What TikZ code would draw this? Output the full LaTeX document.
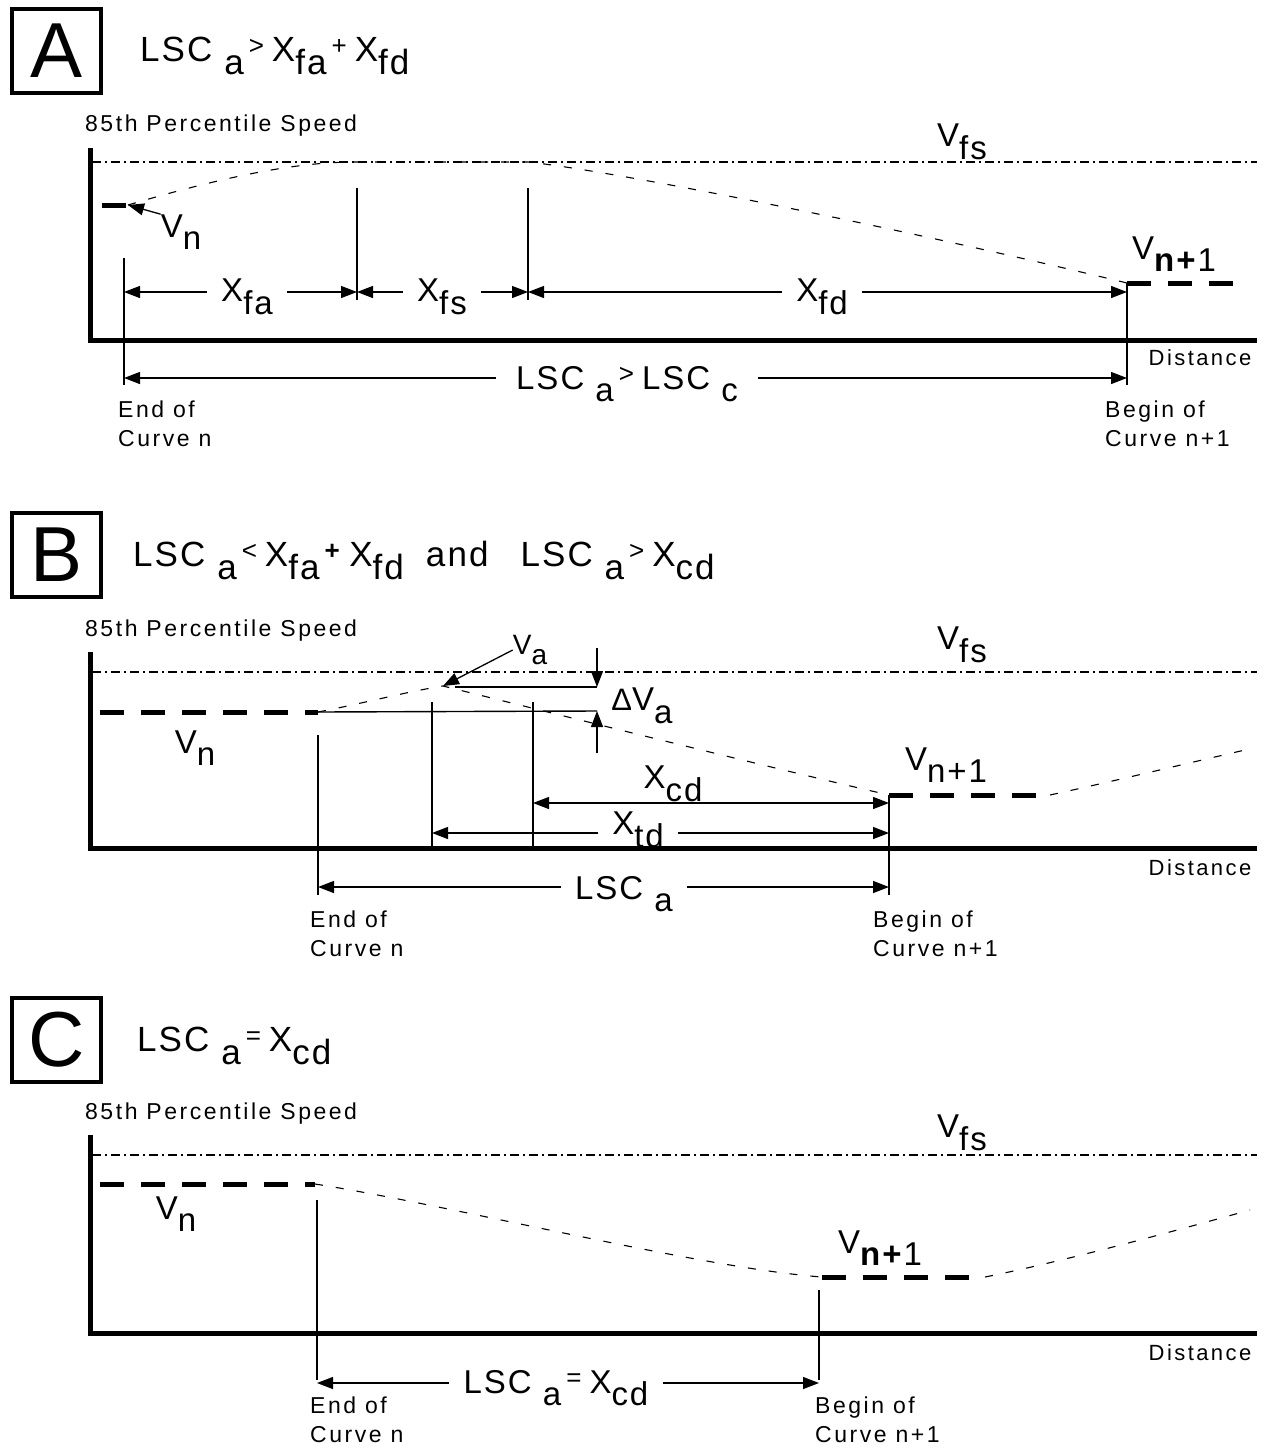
\documentclass[tikz,border=0pt]{standalone}
\usepackage{fontspec}
\setmainfont{Liberation Sans}
\newfontfamily\spacedfont[LetterSpace=11]{Liberation Sans}
\newfontfamily\titlefont[LetterSpace=6]{Liberation Sans}
\usetikzlibrary{arrows.meta,positioning}
\definecolor{ink}{HTML}{000000}
\newcommand{\subtx}[1]{\raisebox{-0.38em}{#1}}
\newcommand{\relsym}[1]{\hspace{5pt}{\fontsize{26}{26}\selectfont\raisebox{0.25em}{#1}}\hspace{8pt}}
\newcommand{\deltasym}{{\fontsize{31}{31}\selectfont\symbol{"0394}}}
\tikzset{
  arr/.style={-{Triangle[length=16pt,width=12pt]},line width=1.3pt,ink},
  darr/.style={{Triangle[length=16pt,width=12pt]}-{Triangle[length=16pt,width=12pt]},line width=1.3pt,ink},
  axisline/.style={line width=5pt,ink,line join=miter},
  guide/.style={line width=1.4pt,ink},
  fsline/.style={line width=1.2pt,ink,dash pattern=on 9pt off 4pt on 2pt off 4pt},
  level/.style={line width=5pt,ink,dash pattern=on 24pt off 17pt},
  speed/.style={line width=1.1pt,ink,dash pattern=on 8pt off 13pt},
  tag/.style={draw,line width=4pt,minimum width=89pt,minimum height=84pt,
    inner sep=0pt,font=\fontsize{78}{78}\selectfont},
  ttl/.style={anchor=base west,inner sep=0pt,font=\titlefont\fontsize{35}{35}\selectfont},
  yttl/.style={anchor=base west,inner sep=0pt,font=\spacedfont\fontsize{23}{23}\selectfont},
  lbl/.style={inner sep=0pt,font=\titlefont\fontsize{33}{33}\selectfont},
  dimlbl/.style={lbl,inner xsep=14pt},
  distlbl/.style={inner sep=0pt,font=\spacedfont\fontsize{22}{22}\selectfont},
  note/.style={anchor=north west,inner sep=0pt,align=left,
    font=\spacedfont\fontsize{23}{29}\selectfont},
}
\begin{document}
\begin{tikzpicture}[x=1pt,y=-1pt]
\useasboundingbox (0,0) rectangle (1267,1451);

% PANEL A
\node[tag] (Atag) at (56.5,51) {A};
\node[ttl] (Attl) at (140,61) {LSC \subtx{a}\relsym{>}X\subtx{fa}\relsym{+}X\subtx{fd}};
\node[yttl] (Ay) at (85,131) {85th Percentile Speed};
\draw[axisline] (90,148) -- (90,340) -- (1257,340);
\draw[fsline] (92,162) -- (1257,162);
\node[lbl] (Afs) at (962,142) {V\subtx{fs}};
\coordinate (Avn) at (128,205);
\draw[level] (102,205) -- (Avn);
\node[lbl] (Avnl) at (181,232) {V\subtx{n}};
\draw[arr] (Avnl.north west) -- (Avn);
\coordinate (Avn1) at (1127,283);
\draw[level] (Avn1) -- (1245,283);
\node[lbl] (Avn1l) at (1174,254) {V\subtx{\textbf{n+}1}};
\draw[speed] (Avn) .. controls (220,178) and (290,163) .. (350,162) -- (528,162)
  .. controls (620,172) and (900,228) .. (Avn1);
% markers
\coordinate (Ad1) at (124,292);
\coordinate (Ad2) at (357,292);
\coordinate (Ad3) at (528,292);
\coordinate (Ad4) at (1127,292);
\coordinate (Ae) at (124,378);
\coordinate (Ab) at (1127,378);
\draw[guide] (124,258) -- (124,385);
\draw[guide] (357,188) -- (357,300);
\draw[guide] (528,188) -- (528,300);
\draw[guide] (Avn1) -- (1127,385);
% dimensions
\node[dimlbl] (Axfa) at (247,297) {X\subtx{fa}};
\node[dimlbl] (Axfs) at (442,297) {X\subtx{fs}};
\node[dimlbl] (Axfd) at (822,297) {X\subtx{fd}};
\draw[arr] (Axfa.west |- Ad1) -- (Ad1);
\draw[arr] (Axfa.east |- Ad2) -- (Ad2);
\draw[arr] (Axfs.west |- Ad2) -- (Ad2);
\draw[arr] (Axfs.east |- Ad3) -- (Ad3);
\draw[arr] (Axfd.west |- Ad3) -- (Ad3);
\draw[arr] (Axfd.east |- Ad4) -- (Ad4);
\node[dimlbl,inner xsep=20pt] (Alsc) at (627,384) {LSC \subtx{a}\relsym{>}LSC \subtx{c}};
\draw[arr] (Alsc.west |- Ae) -- (Ae);
\draw[arr] (Alsc.east |- Ab) -- (Ab);
\node[distlbl] (Adist) at (1200,358) {Distance};
\node[note] (Aend) at (118,401) {End of\\Curve n};
\node[note] (Abeg) at (1105,401) {Begin of\\Curve n+1};

% PANEL B
\node[tag] (Btag) at (56.5,555) {B};
\node[ttl] (Bttl) at (133,566) {LSC \subtx{a}\relsym{<}X\subtx{fa}\relsym{\textbf{+}}X\subtx{fd}\hspace{22pt}and\hspace{32pt}LSC \subtx{a}\relsym{>}X\subtx{cd}};
\node[yttl] (By) at (85,636) {85th Percentile Speed};
\draw[axisline] (90,652) -- (90,848) -- (1257,848);
\draw[fsline] (92,672) -- (1257,672);
\node[lbl] (Bfs) at (962,645) {V\subtx{fs}};
\coordinate (Bvn) at (318,712);
\draw[level] (100,712) -- (Bvn);
\node[lbl] (Bvnl) at (195,748) {V\subtx{n}};
\coordinate (Bpk) at (443,686);
\coordinate (Bvn1) at (889,795);
\coordinate (Bvn1e) at (1050,795);
\draw[level] (Bvn1) -- (Bvn1e);
\node[lbl] (Bvn1l) at (946,765) {V\subtx{n+1}};
\draw[speed] (Bvn) .. controls (365,703) and (405,692) .. (Bpk)
  .. controls (560,715) and (780,770) .. (Bvn1);
\draw[speed] (Bvn1e) .. controls (1110,782) and (1180,765) .. (1245,750);
% speed drop
\coordinate (Bdtop) at (597,687);
\coordinate (Bdbot) at (597,711);
\draw[guide] (455,687) -- (Bdtop);
\draw[guide] (Bvn) -- (Bdbot);
\draw[arr] (597,648) -- (Bdtop);
\draw[arr] (597,753) -- (Bdbot);
\node[lbl] (Bdv) at (642,706) {\deltasym V\subtx{a}};
\node[lbl,font=\titlefont\fontsize{28}{28}\selectfont] (Bva) at (530,650) {V\subtx{a}};
\draw[arr] (Bva.west) -- (Bpk);
% markers
\coordinate (Bx1) at (432,833);
\coordinate (Bx2) at (533,803);
\coordinate (Bx3) at (889,803);
\coordinate (Bx4) at (889,833);
\coordinate (Be) at (318,887);
\coordinate (Bb) at (889,887);
\draw[guide] (318,735) -- (318,895);
\draw[guide] (432,702) -- (432,848);
\draw[guide] (533,702) -- (533,848);
\draw[guide] (Bvn1) -- (889,895);
% dimensions
\draw[darr] (Bx2) -- (Bx3);
\node[lbl] (Bxcd) at (673,784) {X\subtx{cd}};
\node[dimlbl] (Bxtd) at (638,830) {X\subtx{td}};
\draw[arr] (Bxtd.west |- Bx1) -- (Bx1);
\draw[arr] (Bxtd.east |- Bx4) -- (Bx4);
\node[dimlbl] (Blsc) at (624,894) {LSC \subtx{a}};
\draw[arr] (Blsc.west |- Be) -- (Be);
\draw[arr] (Blsc.east |- Bb) -- (Bb);
\node[distlbl] (Bdist) at (1200,868) {Distance};
\node[note] (Bend) at (310,911) {End of\\Curve n};
\node[note] (Bbeg) at (873,911) {Begin of\\Curve n+1};

% PANEL C
\node[tag] (Ctag) at (56.5,1040) {C};
\node[ttl] (Cttl) at (137,1051) {LSC \subtx{a}\relsym{=}X\subtx{cd}};
\node[yttl] (Cy) at (85,1119) {85th Percentile Speed};
\draw[axisline] (90,1135) -- (90,1333) -- (1257,1333);
\draw[fsline] (92,1155) -- (1257,1155);
\node[lbl] (Cfs) at (962,1133) {V\subtx{fs}};
\coordinate (Cvn) at (315,1184);
\draw[level] (100,1184) -- (Cvn);
\node[lbl] (Cvnl) at (176,1214) {V\subtx{n}};
\coordinate (Cvn1) at (822,1277);
\coordinate (Cvn1e) at (985,1277);
\draw[level] (Cvn1) -- (Cvn1e);
\node[lbl] (Cvn1l) at (880,1248) {V\subtx{\textbf{n+}1}};
\draw[speed] (Cvn) .. controls (450,1205) and (700,1268) .. (Cvn1);
\draw[speed] (Cvn1e) .. controls (1060,1262) and (1160,1235) .. (1250,1210);
% markers
\coordinate (Ce) at (317,1383);
\coordinate (Cb) at (819,1383);
\draw[guide] (317,1200) -- (317,1380);
\draw[guide] (819,1290) -- (819,1380);
\node[dimlbl] (Clsc) at (556,1388) {LSC \subtx{a}\relsym{=}X\subtx{cd}};
\draw[arr] (Clsc.west |- Ce) -- (Ce);
\draw[arr] (Clsc.east |- Cb) -- (Cb);
\node[distlbl] (Cdist) at (1200,1353) {Distance};
\node[note] (Cend) at (310,1397) {End of\\Curve n};
\node[note] (Cbeg) at (815,1397) {Begin of\\Curve n+1};
\end{tikzpicture}
\end{document}
